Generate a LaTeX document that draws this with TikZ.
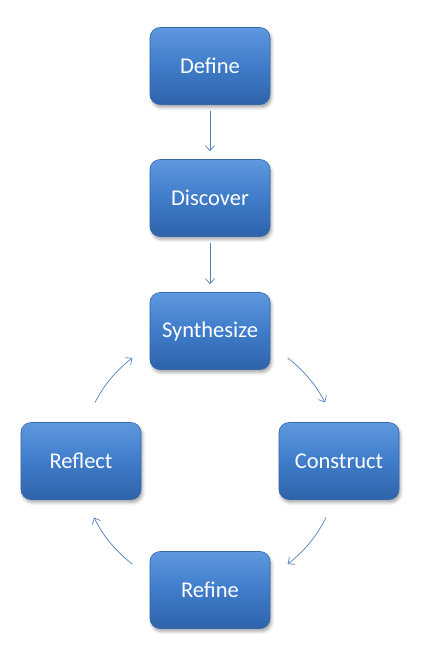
\documentclass[tikz,border=0pt]{standalone}
\usepackage{fontspec}
\setmainfont{Carlito}
\usetikzlibrary{arrows.meta,shadows.blur,calc}
\definecolor{boxtop}{HTML}{5E98DE}
\definecolor{boxmid}{HTML}{3F7CC9}
\definecolor{boxbot}{HTML}{2E63AA}
\definecolor{boxedge}{HTML}{3568AE}
\definecolor{arrowc}{HTML}{4F81BD}
\tikzset{
  stagebox/.style={rectangle, rounded corners=10pt, minimum width=120pt, minimum height=77pt,
    top color=boxtop, bottom color=boxbot, middle color=boxmid, draw=boxedge, line width=0.6pt,
    text=white, font=\fontsize{22.5}{26}\selectfont, inner sep=0pt,
    blur shadow={shadow xshift=1.5pt, shadow yshift=-3pt, shadow blur radius=3pt, shadow opacity=35}},
  flow/.style={draw=arrowc, line width=0.7pt, -{Straight Barb[length=5pt,width=9pt,line width=0.7pt]}}
}
\begin{document}
\begin{tikzpicture}[x=1pt,y=-1pt]
\useasboundingbox (0,0) rectangle (422,653);
\node[stagebox] (define) at (210,66) {Define};
\node[stagebox] (discover) at (210,198) {Discover};
\node[stagebox] (synth) at (210,331) {Synthesize};
\node[stagebox] (reflect) at (81,461) {Reflect};
\node[stagebox] (construct) at (339,461) {Construct};
\node[stagebox] (refine) at (210,590) {Refine};
\coordinate (c) at (210,461);
\coordinate (a1) at ($(c)+(-53:129)$);
\coordinate (a2) at ($(c)+(26:129)$);
\coordinate (a3) at ($(c)+(127:129)$);
\coordinate (a4) at ($(c)+(-153:129)$);
\draw[flow] ([yshift=-6pt]define.south) -- ([yshift=8pt]discover.north);
\draw[flow] ([yshift=-6pt]discover.south) -- ([yshift=8pt]synth.north);
\draw[flow] (a1) arc[start angle=-53, end angle=-27, radius=129];
\draw[flow] (a2) arc[start angle=26, end angle=53, radius=129];
\draw[flow] (a3) arc[start angle=127, end angle=154, radius=129];
\draw[flow] (a4) arc[start angle=-153, end angle=-127, radius=129];
\end{tikzpicture}
\end{document}
